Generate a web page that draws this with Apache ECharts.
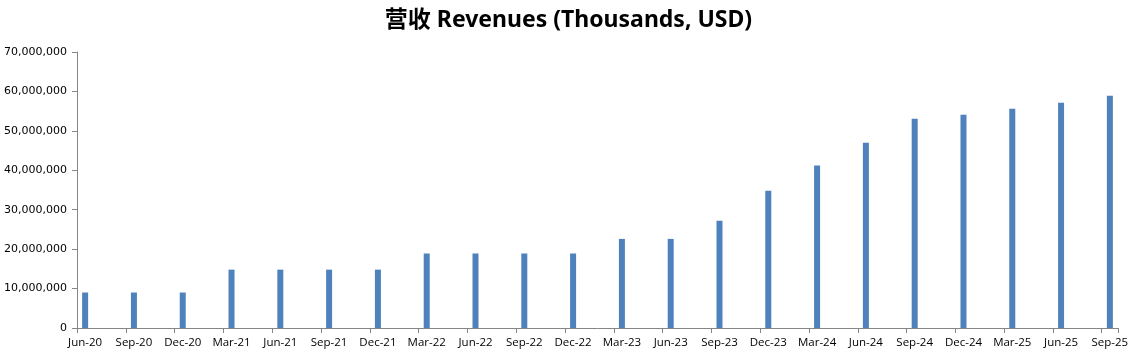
<!DOCTYPE html>
<html>
<head>
<meta charset="utf-8">
<script src="https://cdn.jsdelivr.net/npm/echarts@6/dist/echarts.min.js"></script>
<style>
html,body{margin:0;padding:0;background:#fff;}
#chart{width:1137px;height:359px;}
</style>
</head>
<body>
<div id="chart"></div>
<script>
const titleText = '营收 Revenues (Thousands, USD)';
const quarters = ['Jun-20','Sep-20','Dec-20','Mar-21','Jun-21','Sep-21','Dec-21','Mar-22','Jun-22','Sep-22','Dec-22','Mar-23','Jun-23','Sep-23','Dec-23','Mar-24','Jun-24','Sep-24','Dec-24','Mar-25','Jun-25','Sep-25'];
const revenues = [9000000,9000000,9000000,14800000,14800000,14800000,14800000,18900000,18900000,18900000,18900000,22600000,22600000,27200000,34800000,41200000,47000000,53100000,54100000,55600000,57100000,58900000];
const yTicks = [0,10000000,20000000,30000000,40000000,50000000,60000000,70000000];

// Monthly date-axis slots (quarter-end months carry data, the two months between are empty)
const months = [];
const monthValues = [];
quarters.forEach((q, i) => {
  months.push(q);
  monthValues.push(revenues[i]);
  if (i < quarters.length - 1) {
    months.push(q + '#1'); monthValues.push('-');
    months.push(q + '#2'); monthValues.push('-');
  }
});

const chart = echarts.init(document.getElementById('chart'), null, {renderer: 'canvas'});
chart.setOption({
  animation: false,
  backgroundColor: '#ffffff',
  title: {
    text: titleText,
    left: 'center',
    top: 4,
    textStyle: {fontFamily: '"Noto Sans", "Noto Sans CJK SC", sans-serif', fontWeight: 'bold', fontSize: 23, color: '#000'}
  },
  grid: {left: 77, right: 19, top: 52, bottom: 31, containLabel: false},
  xAxis: {
    type: 'category',
    data: months,
    boundaryGap: true,
    axisLine: {show: true, lineStyle: {color: '#868686', width: 1}},
    axisTick: {show: true, interval: (idx) => idx % 3 === 0 && idx < months.length, alignWithLabel: false, length: 5, lineStyle: {color: '#868686'}},
    axisLabel: {
      interval: 2,
      margin: 9,
      fontFamily: '"Open Sans", sans-serif',
      fontSize: 11.5,
      color: '#000',
      formatter: v => (v.indexOf('#') >= 0 ? '' : v)
    },
    splitLine: {show: false}
  },
  yAxis: {
    type: 'value',
    min: yTicks[0],
    max: yTicks[yTicks.length - 1],
    interval: yTicks[1] - yTicks[0],
    axisLine: {show: true, lineStyle: {color: '#868686', width: 1}},
    axisTick: {show: true, length: 5, lineStyle: {color: '#868686'}},
    splitLine: {show: false},
    axisLabel: {
      margin: 10,
      fontFamily: '"DejaVu Sans", sans-serif',
      fontSize: 11,
      color: '#000',
      formatter: v => v.toLocaleString('en-US')
    }
  },
  series: [{
    type: 'bar',
    data: monthValues,
    barWidth: 6,
    itemStyle: {color: '#4F81BD'}
  }]
});
</script>
</body>
</html>
